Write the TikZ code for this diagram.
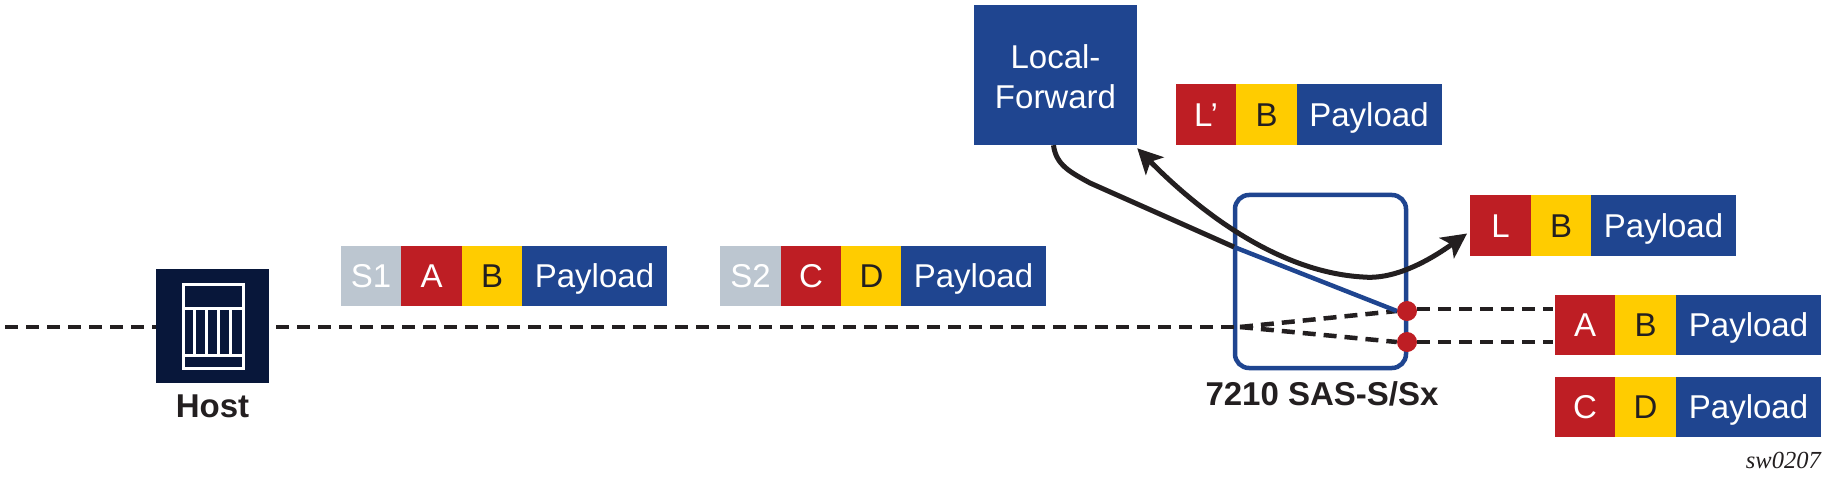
\documentclass[tikz,border=0pt]{standalone}
\usepackage{fontspec}
\setmainfont{Liberation Sans}
\newfontfamily\tagfont{Liberation Serif}
\usetikzlibrary{arrows.meta}
\definecolor{nokiablue}{HTML}{1F4590}
\definecolor{hostnavy}{HTML}{08173A}
\definecolor{hdrred}{HTML}{BE1E24}
\definecolor{hdryellow}{HTML}{FFCC00}
\definecolor{hdrgrey}{HTML}{BCC6D0}
\definecolor{inkblack}{HTML}{231F20}
\tikzset{
  cell/.style={inner sep=0pt, minimum height=60.5pt, text height=23.5pt, text depth=0pt,
    font=\fontsize{33}{38}\selectfont},
  svlan/.style={cell, fill=hdrgrey, text=white, minimum width=60.5pt},
  redcell/.style={cell, fill=hdrred, text=white, minimum width=60.5pt},
  yellowcell/.style={cell, fill=hdryellow, text=inkblack, minimum width=60.5pt},
  payload/.style={cell, fill=nokiablue, text=white, minimum width=145pt},
  boldlabel/.style={inner sep=0pt, anchor=base, text=inkblack, font=\fontsize{33}{38}\selectfont\bfseries},
  port/.style={circle, fill=hdrred, inner sep=0pt, minimum size=20pt},
  dashline/.style={inkblack, line width=4.5pt, dash pattern=on 13pt off 8pt},
  flow/.style={inkblack, line width=5pt},
}
\begin{document}
\begin{tikzpicture}[x=1pt,y=-1pt]
     \useasboundingbox (0,0) rectangle (1828,481);

     % host
     \node (host) at (212.5,326) [fill=hostnavy, inner sep=0pt, minimum width=113pt, minimum height=114pt] {};
     \draw[white, line width=3pt] (183,284) rectangle (243,368);
     \draw[white, line width=3pt] (183,308) -- (243,308) (183,355) -- (243,355);
     \draw[white, line width=3pt] (194.5,308) -- (194.5,355) (206.5,308) -- (206.5,355)
        (218.5,308) -- (218.5,355) (230.5,308) -- (230.5,355);
     \node (hostlabel) at (212.5,417) [boldlabel] {Host};

     % packet leaving the host
     \node (s1) at (371,276) [svlan] {S1};
     \node (a1) at (431.5,276) [redcell] {A};
     \node (b1) at (492,276) [yellowcell] {B};
     \node (p1) at (594.5,276) [payload] {Payload};

     \node (s2) at (750.5,276) [svlan] {S2};
     \node (c1) at (811,276) [redcell] {C};
     \node (d1) at (871.5,276) [yellowcell] {D};
     \node (p2) at (973.5,276) [payload] {Payload};

     % local forward block
     \node (lfwd) at (1055.5,75) [fill=nokiablue, text=white, inner sep=0pt, minimum width=163pt, minimum height=140pt,
        align=center, font=\fontsize{33}{40}\selectfont, text height=68pt, text depth=0pt] {Local-\\Forward};

     \node (lp) at (1206,114.5) [redcell] {L’};
     \node (b2) at (1266.5,114.5) [yellowcell] {B};
     \node (p3) at (1369,114.5) [payload] {Payload};

     \node (l) at (1500.5,225.5) [redcell] {L};
     \node (b3) at (1561,225.5) [yellowcell] {B};
     \node (p4) at (1663.5,225.5) [payload] {Payload};

     \node (a2) at (1585,325) [redcell] {A};
     \node (b4) at (1645.5,325) [yellowcell] {B};
     \node (p5) at (1748.5,325) [payload] {Payload};

     \node (c2) at (1585,407) [redcell] {C};
     \node (d2) at (1645.5,407) [yellowcell] {D};
     \node (p6) at (1748.5,407) [payload] {Payload};

     % switch
     \node (sas) at (1320.5,281.5) [draw=nokiablue, line width=4.5pt, rounded corners=14pt, inner sep=0pt,
        minimum width=171pt, minimum height=173pt] {};
     \node (saslabel) at (1322,405) [boldlabel] {7210 SAS-S/Sx};

     \coordinate (linestart) at (5,327);
     \coordinate (branch) at (1240,327);
     \coordinate (blend) at (1234,247);
     \coordinate (lowpoint) at (1363,277);

     \draw[dashline] (linestart) -- (linestart -| host.west);
     \draw[dashline, shorten <=7pt] (branch -| host.east) -- (branch);

     \node (port1) at (1407,311) [port] {};
     \node (port2) at (1407,342) [port] {};

     \draw[dashline] (branch) -- (port1.west);
     \draw[dashline] (branch) -- (port2.west);
     \draw[dashline, shorten >=2pt] ([yshift=2pt]port1.east) -- ([yshift=2pt]port1.east -| a2.west);
     \draw[dashline, shorten >=2pt] (port2.east) -- (port2.east -| a2.west);

     % forwarded traffic
     \draw[nokiablue, line width=4.5pt] (blend) -- (port1.west);
     \draw[flow] ([xshift=-2pt]lfwd.south) .. controls (1056,165) and (1070,172) .. (1090,183) -- (blend);
     \draw[flow, {Stealth[length=25pt,width=25pt,inset=6pt]}-{Stealth[length=25pt,width=25pt,inset=6pt]}]
        ([yshift=-3pt]lfwd.south east) .. controls (1195,207) and (1275,272) .. (lowpoint)
        .. controls (1395,280) and (1430,260) .. ([xshift=-3pt,yshift=-8pt]l.west);

     \node (tag) at (1821,468) [anchor=base east, inner sep=0pt, text=inkblack, font=\tagfont\itshape\fontsize{24.5}{28}\selectfont] {sw0207};
\end{tikzpicture}
\end{document}
